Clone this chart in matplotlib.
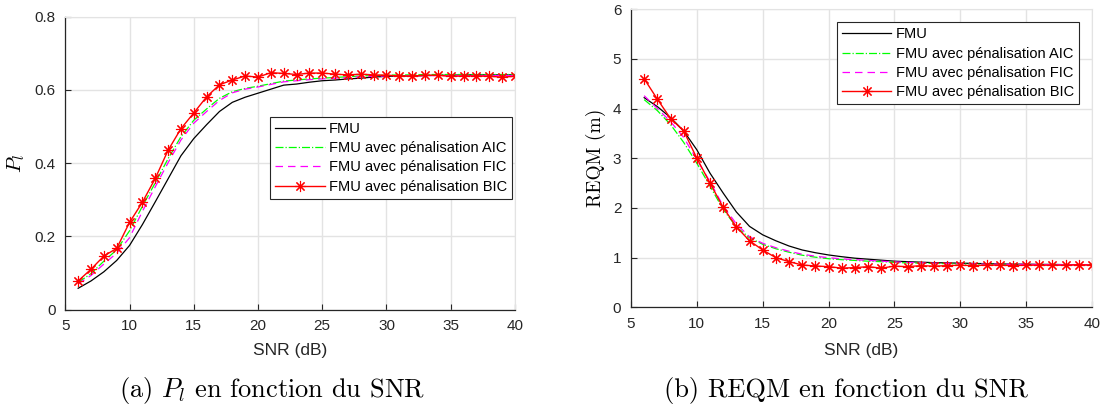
import numpy as np
import matplotlib
matplotlib.use("Agg")
import matplotlib.pyplot as plt

plt.rcParams['font.family'] = ['Liberation Sans', 'DejaVu Sans']
plt.rcParams['mathtext.fontset'] = 'cm'

# SNR (dB)
snr = list(range(6, 41))

# (a) P_l en fonction du SNR
pl_fmu = [0.058, 0.078, 0.103, 0.134, 0.175, 0.232, 0.294, 0.357, 0.420, 0.467,
          0.505, 0.541, 0.566, 0.580, 0.591, 0.602, 0.613, 0.616, 0.621, 0.625,
          0.627, 0.630, 0.632, 0.635, 0.637, 0.638, 0.638, 0.639, 0.640, 0.640,
          0.641, 0.641, 0.641, 0.641, 0.641]
pl_aic = [0.074, 0.098, 0.132, 0.163, 0.215, 0.282, 0.346, 0.412, 0.472, 0.517,
          0.548, 0.577, 0.595, 0.604, 0.610, 0.617, 0.624, 0.627, 0.630, 0.632,
          0.634, 0.636, 0.638, 0.639, 0.640, 0.641, 0.641, 0.642, 0.642, 0.642,
          0.642, 0.642, 0.642, 0.642, 0.642]
pl_fic = [0.070, 0.093, 0.124, 0.154, 0.196, 0.268, 0.335, 0.401, 0.463, 0.509,
          0.541, 0.571, 0.592, 0.602, 0.608, 0.615, 0.622, 0.625, 0.628, 0.630,
          0.632, 0.634, 0.636, 0.637, 0.638, 0.638, 0.639, 0.639, 0.639, 0.639,
          0.639, 0.639, 0.639, 0.639, 0.639]
pl_bic = [0.078, 0.110, 0.146, 0.167, 0.238, 0.293, 0.358, 0.435, 0.494, 0.537,
          0.581, 0.614, 0.627, 0.638, 0.635, 0.647, 0.645, 0.642, 0.646, 0.646,
          0.643, 0.641, 0.643, 0.641, 0.640, 0.638, 0.638, 0.640, 0.640, 0.637,
          0.638, 0.638, 0.637, 0.635, 0.637]

# (b) REQM en fonction du SNR
rq_fmu = [4.22, 4.04, 3.82, 3.55, 3.17, 2.70, 2.30, 1.92, 1.63, 1.46,
          1.34, 1.235, 1.155, 1.10, 1.055, 1.02, 0.99, 0.97, 0.95, 0.93,
          0.92, 0.91, 0.90, 0.895, 0.89, 0.885, 0.88, 0.875, 0.87, 0.87,
          0.865, 0.865, 0.86, 0.86, 0.86]
rq_aic = [4.18, 3.96, 3.68, 3.32, 2.90, 2.44, 1.97, 1.62, 1.40, 1.27,
          1.18, 1.11, 1.05, 1.01, 0.98, 0.96, 0.945, 0.93, 0.92, 0.905,
          0.895, 0.89, 0.885, 0.88, 0.875, 0.87, 0.87, 0.865, 0.865, 0.86,
          0.86, 0.86, 0.86, 0.86, 0.86]
rq_fic = [4.26, 4.00, 3.74, 3.42, 2.97, 2.53, 2.04, 1.68, 1.42, 1.29,
          1.20, 1.13, 1.07, 1.03, 1.00, 0.975, 0.96, 0.945, 0.93, 0.915,
          0.905, 0.895, 0.89, 0.885, 0.88, 0.875, 0.87, 0.87, 0.865, 0.865,
          0.86, 0.86, 0.86, 0.86, 0.86]
rq_bic = [4.60, 4.19, 3.80, 3.55, 3.00, 2.50, 2.01, 1.62, 1.34, 1.155,
          1.00, 0.92, 0.853, 0.833, 0.82, 0.79, 0.80, 0.82, 0.79, 0.83,
          0.82, 0.84, 0.83, 0.84, 0.85, 0.84, 0.85, 0.85, 0.84, 0.85,
          0.85, 0.85, 0.85, 0.86, 0.85]

noms = ['FMU', 'FMU avec pénalisation AIC', 'FMU avec pénalisation FIC',
        'FMU avec pénalisation BIC']
xticks = [5, 10, 15, 20, 25, 30, 35, 40]

fig = plt.figure(figsize=(11.04, 4.05), dpi=100)
ax1 = fig.add_axes([0.05915, 0.2358, 0.4073, 0.7230])
ax2 = fig.add_axes([0.57156, 0.2410, 0.41757, 0.7363])

asterisque = (8, 2, 0)


def trace(ax, s1, s2, s3, s4):
    ax.plot(snr, s1, '-', color='k', lw=0.9, label=noms[0])
    ax.plot(snr, s2, '-.', color='#00ff00', lw=0.9, label=noms[1])
    ax.plot(snr, s3, '--', color='#ff00ff', lw=0.9, label=noms[2], dashes=(6, 4))
    ax.plot(snr, s4, '-', color='r', lw=1.0, marker=asterisque, ms=8, mew=0.8,
            label=noms[3])
    ax.set_xlim(5, 40)
    ax.set_xticks(xticks)
    ax.grid(True, color='#e3e3e3', lw=1.0)
    ax.set_axisbelow(True)
    for s in ['top', 'right']:
        ax.spines[s].set_color('#e3e3e3')
    for s in ['left', 'bottom']:
        ax.spines[s].set_color('#262626')
        ax.spines[s].set_linewidth(0.9)
    ax.tick_params(direction='in', length=4, width=0.8, colors='#262626',
                   labelsize=11, pad=7, top=False, right=False)
    ax.set_xlabel('SNR (dB)', fontsize=12.5, color='#262626', va='top')


def legende(ax, ancre):
    leg = ax.legend(loc='upper right', bbox_to_anchor=ancre,
                    borderaxespad=0, fontsize=10.5, fancybox=False,
                    edgecolor='#262626', framealpha=1, handlelength=3.4,
                    handletextpad=0.3, labelspacing=0.36, borderpad=0.35)
    leg.get_frame().set_linewidth(0.8)


trace(ax1, pl_fmu, pl_aic, pl_fic, pl_bic)
ax1.set_ylim(0, 0.8)
ax1.set_yticks([0, 0.2, 0.4, 0.6, 0.8])
ax1.set_yticklabels(['0', '0.2', '0.4', '0.6', '0.8'])
ax1.set_ylabel('$P_l$', fontsize=15)
ax1.yaxis.set_label_coords(-0.085, 0.5)
ax1.xaxis.set_label_coords(0.5, -0.114)
legende(ax1, (0.994, 0.658))

trace(ax2, rq_fmu, rq_aic, rq_fic, rq_bic)
ax2.set_ylim(0, 6)
ax2.set_yticks(range(0, 7))
ax2.set_ylabel('REQM (m)', fontsize=14, family='cmr10')
ax2.yaxis.set_label_coords(-0.054, 0.5)
ax2.xaxis.set_label_coords(0.5, -0.119)
legende(ax2, (0.972, 0.956))

fig.text(0.2468, 0.0205, '(a) $P_l$ en fonction du SNR', family='cmr10',
         fontsize=19, ha='center', va='baseline')
fig.text(0.766, 0.0205, '(b) REQM en fonction du SNR', family='cmr10',
         fontsize=19, ha='center', va='baseline')

fig.savefig('out.png', dpi=100)
